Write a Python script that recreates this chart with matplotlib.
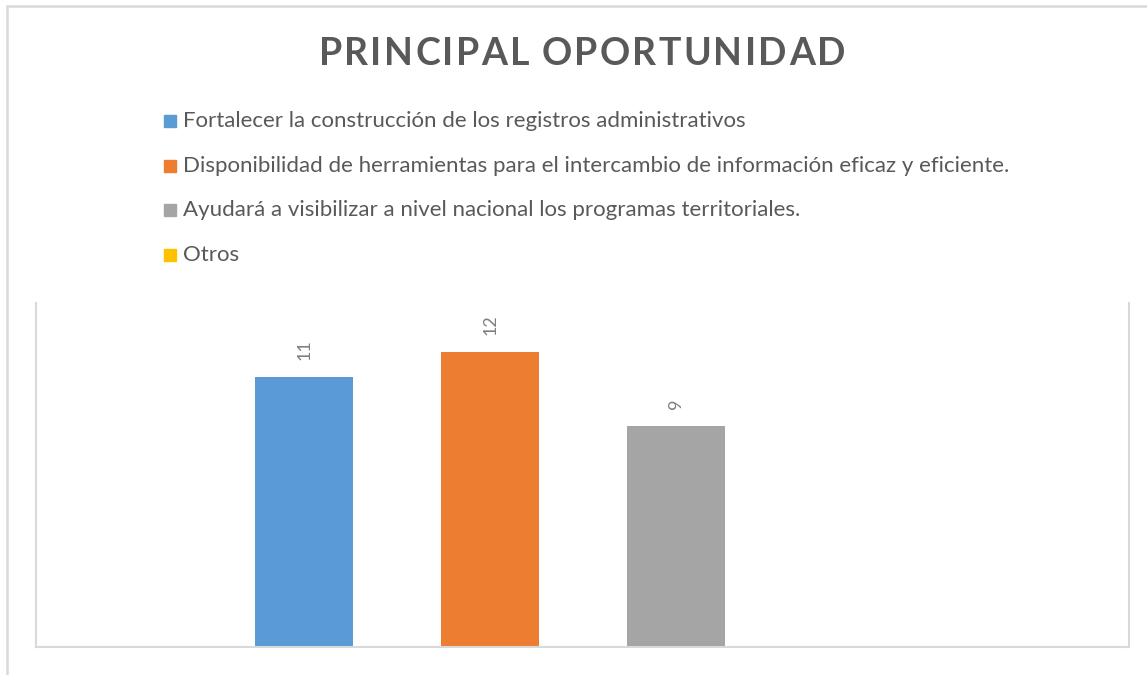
import matplotlib.pyplot as plt
import matplotlib.patches as mpatches
import numpy as np

# Datos del gráfico
titulo = "PRINCIPAL OPORTUNIDAD"
series = [
    "Fortalecer la construcción de los registros administrativos",
    "Disponibilidad de herramientas para el intercambio de información eficaz y eficiente.",
    "Ayudará a visibilizar a nivel nacional los programas territoriales.",
    "Otros",
]
valores = [11, 12, 9, 0]
colores = ["#5B9BD5", "#ED7D31", "#A5A5A5", "#FFC000"]

plt.rcParams['font.family'] = ['Lato', 'DejaVu Sans']
gris_texto = "#595959"
gris_borde = "#D9D9D9"

fig = plt.figure(figsize=(11.47, 6.75), dpi=100)
W, H = 1147, 675

# Marco exterior del gráfico
fig.patches.append(mpatches.Rectangle((7 / W, -0.05), 1.2, 1 - 6 / H + 0.05,
                                      transform=fig.transFigure, fill=False,
                                      edgecolor=gris_borde, linewidth=1.8))

# Área de trazado
ax = fig.add_axes([36 / W, 1 - 647 / H, (1129 - 36) / W, (647 - 303) / H])
x = np.arange(len(valores))
barras = ax.bar(x, valores, width=0.527, color=colores)
ax.set_xlim(-1.441, 4.435)
ax.set_ylim(0, 14)
ax.set_xticks([])
ax.set_yticks([])
for lado in ['left', 'right', 'bottom']:
    ax.spines[lado].set_color(gris_borde)
    ax.spines[lado].set_linewidth(1.5)
ax.spines['top'].set_visible(False)

etiquetas = [str(v) if v > 0 else "" for v in valores]
ax.bar_label(barras, labels=etiquetas, rotation=90, padding=12,
             fontsize=13, color="#7F7F7F")

# Título con espaciado entre letras (se coloca letra por letra)
renderer = fig.canvas.get_renderer()
piezas = []
for ch in titulo:
    t = fig.text(0, 1 - 54 / H, ch, ha='left', va='center', fontsize=27,
                 fontweight='bold', color=gris_texto)
    ancho = t.get_window_extent(renderer).width if ch != " " else 0
    piezas.append((t, ancho))
ancho_espacio = 8
anchos = [a if a > 0 else ancho_espacio for _, a in piezas]
ancho_total = 527
tracking = (ancho_total - sum(anchos)) / (len(anchos) - 1)
pos = 582 - ancho_total / 2
for (t, _), a in zip(piezas, anchos):
    t.set_x(pos / W)
    pos += a + tracking

# Leyenda
for i, (nombre, c) in enumerate(zip(series, colores)):
    yc = 1 - (121 + i * 44.7) / H
    fig.patches.append(mpatches.Rectangle((164 / W, yc - 6 / H), 12 / W, 12 / H,
                                          transform=fig.transFigure, color=c))
    fig.text(183 / W, yc, nombre, ha='left', va='center', fontsize=16, color=gris_texto)

fig.savefig("out.png", dpi=100)
